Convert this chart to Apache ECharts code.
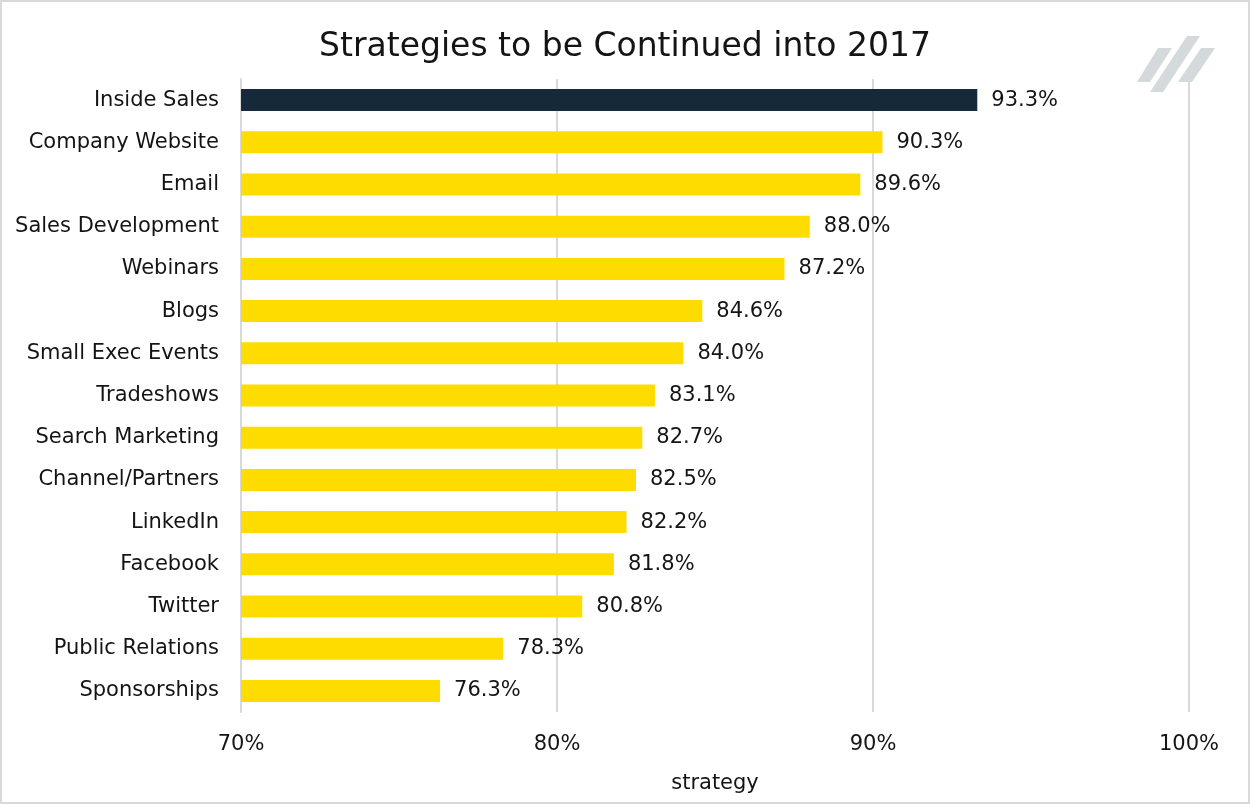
<!DOCTYPE html>
<html>
<head>
<meta charset="utf-8">
<script src="https://cdn.jsdelivr.net/npm/echarts@6/dist/echarts.min.js"></script>
<style>
html,body{margin:0;padding:0;background:#fff;}
#chart{width:1250px;height:804px;}
</style>
</head>
<body>
<div id="chart"></div>
<script>
const categories = ["Inside Sales","Company Website","Email","Sales Development","Webinars","Blogs","Small Exec Events","Tradeshows","Search Marketing","Channel/Partners","LinkedIn","Facebook","Twitter","Public Relations","Sponsorships"];
const values = [93.3,90.3,89.6,88.0,87.2,84.6,84.0,83.1,82.7,82.5,82.2,81.8,80.8,78.3,76.3];
const xTicks = [70,80,90,100];
const titleText = "Strategies to be Continued into 2017";
const xAxisName = "strategy";

const FONT = "DejaVu Sans";
const TXT = "#141414";
const chart = echarts.init(document.getElementById('chart'), null, {renderer:'canvas'});
chart.setOption({
  backgroundColor:'#fff',
  animation:false,
  title:{text:titleText,left:'center',top:26,textStyle:{fontFamily:FONT,fontSize:33,fontWeight:'normal',color:TXT}},
  grid:{left:241,right:61,top:79,bottom:92,containLabel:false},
  xAxis:{type:'value',min:xTicks[0],max:xTicks[xTicks.length-1],interval:10,
    name:xAxisName,nameLocation:'middle',nameGap:61,
    nameTextStyle:{fontFamily:FONT,fontSize:21,color:TXT},
    axisLine:{show:false},axisTick:{show:false},
    axisLabel:{margin:22,fontFamily:FONT,fontSize:21,color:TXT,formatter:v=>v+'%'},
    splitLine:{show:true,lineStyle:{color:'#d9d9d9',width:2}}},
  yAxis:{type:'category',data:categories,inverse:true,
    axisLine:{show:true,lineStyle:{color:'#d9d9d9',width:2}},axisTick:{show:false},
    axisLabel:{margin:22,fontFamily:FONT,fontSize:21,color:TXT}},
  series:[{type:'bar',barWidth:22,
    data:values.map((v,i)=>({value:v,itemStyle:{color:i===0?'#16293a':'#ffdc00'}})),
    label:{show:true,position:'right',distance:14,fontFamily:FONT,fontSize:21,color:TXT,formatter:p=>p.value.toFixed(1)+'%'}}],
  graphic:[
    {type:'rect',shape:{x:1,y:1,width:1248,height:802},style:{fill:'none',stroke:'#d9d9d9',lineWidth:2},silent:true},
    {type:'polygon',shape:{points:[[1158,48],[1172,48],[1150,82],[1137,82]]},style:{fill:'#d4d9dc'},z:100},
    {type:'polygon',shape:{points:[[1187,36],[1200,36],[1163,92],[1150,92]]},style:{fill:'#d4d9dc'},z:100},
    {type:'polygon',shape:{points:[[1201,48],[1215,48],[1192,82],[1178,82]]},style:{fill:'#d4d9dc'},z:100}
  ]
});
</script>
</body>
</html>
